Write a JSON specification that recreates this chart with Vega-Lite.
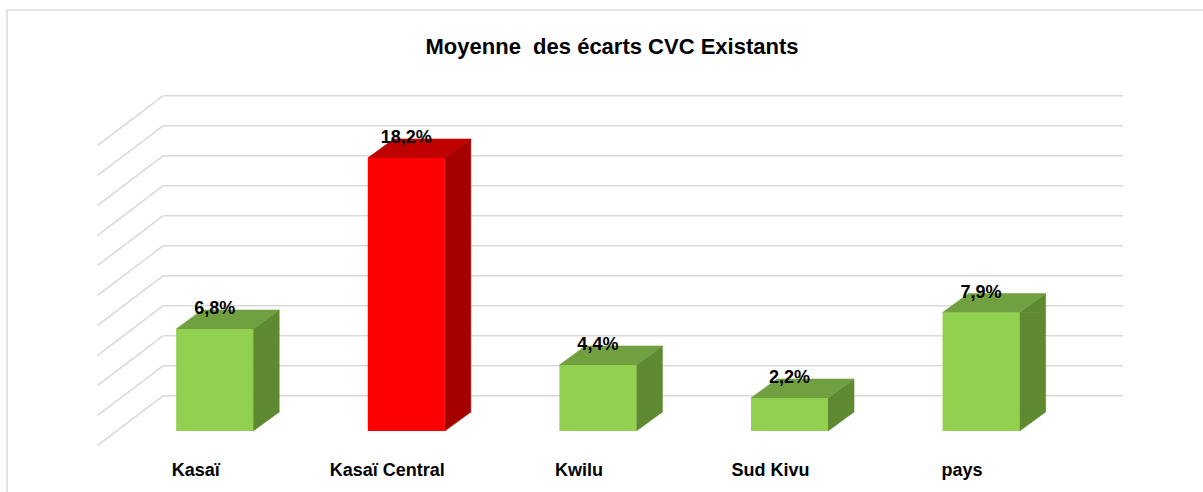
{
  "$schema": "https://vega.github.io/schema/vega-lite/v6.json",
  "width": 1210,
  "height": 490,
  "autosize": {"type": "none"},
  "padding": {"left": 7, "top": 10, "right": 0, "bottom": 0},
  "background": "white",
  "config": {
    "view": {"stroke": "#d9d9d9", "strokeWidth": 1.5},
    "locale": {"number": {"decimal": ",", "thousands": " ", "grouping": [3], "currency": ["", " €"]}},
    "font": "Liberation Sans",
    "axis": {"disable": true},
    "legend": {"disable": true}
  },
  "title": {
    "text": "Moyenne\u00a0 des écarts CVC Existants",
    "anchor": "middle",
    "frame": "group",
    "font": "Liberation Sans",
    "fontSize": 22,
    "fontWeight": "bold",
    "color": "#000000",
    "offset": 0,
    "baseline": "alphabetic",
    "dy": 66
  },
  "datasets": {
    "bars": [
      {"region": "Kasaï", "ecart": 0.068},
      {"region": "Kasaï Central", "ecart": 0.182},
      {"region": "Kwilu", "ecart": 0.044},
      {"region": "Sud Kivu", "ecart": 0.022},
      {"region": "pays", "ecart": 0.079}
    ],
    "grid": [
      {"tick": 0}, {"tick": 0.02}, {"tick": 0.04}, {"tick": 0.06}, {"tick": 0.08}, {"tick": 0.1},
      {"tick": 0.12}, {"tick": 0.14}, {"tick": 0.16}, {"tick": 0.18}, {"tick": 0.2}
    ]
  },
  "layer": [
    {
      "data": {"name": "grid"},
      "mark": {"type": "rule", "color": "#d9d9d9", "strokeWidth": 1.5, "yOffset": -35.3, "y2Offset": -35.3},
      "encoding": {
        "x": {"datum": "Kasaï", "type": "nominal", "bandPosition": -0.1675,
              "scale": {"domain": ["Kasaï", "Kasaï Central", "Kwilu", "Sud Kivu", "pays"], "paddingInner": 0.59812, "paddingOuter": 0.95668, "align": 0.4615},
              "axis": null},
        "x2": {"datum": "pays", "bandPosition": 2.343},
        "y": {"field": "tick", "type": "quantitative", "scale": {"domain": [-0.046, 0.280667], "nice": false, "zero": false}, "axis": null},
        "y2": {"field": "tick"}
      }
    },
    {
      "data": {"name": "grid"},
      "mark": {"type": "rule", "color": "#d9d9d9", "strokeWidth": 1.5, "yOffset": -35.3, "y2Offset": 14.7, "x2Offset": -66},
      "encoding": {
        "x": {"datum": "Kasaï", "type": "nominal", "bandPosition": -0.1675},
        "x2": {"datum": "Kasaï", "bandPosition": -0.1675},
        "y": {"field": "tick", "type": "quantitative"},
        "y2": {"field": "tick"}
      }
    },
    {
      "data": {"name": "bars"},
      "mark": {"type": "bar", "width": 26, "xOffset": 51.5, "y2Offset": -19, "strokeWidth": 0.6},
      "encoding": {
        "x": {"field": "region", "type": "nominal"},
        "y": {"field": "ecart", "type": "quantitative"},
        "y2": {"datum": 0},
        "color": {"condition": {"test": "datum.region === 'Kasaï Central'", "value": "#a50000"}, "value": "#5f8a32"},
        "stroke": {"condition": {"test": "datum.region === 'Kasaï Central'", "value": "#a50000"}, "value": "#5f8a32"}
      }
    },
    {
      "data": {"name": "bars"},
      "mark": {"type": "point", "shape": "M38.5,0L64.5,-19L64.5,0Z", "size": 4, "filled": true, "opacity": 1, "strokeWidth": 0.6},
      "encoding": {
        "x": {"field": "region", "type": "nominal"},
        "y": {"field": "ecart", "type": "quantitative"},
        "color": {"condition": {"test": "datum.region === 'Kasaï Central'", "value": "#a50000"}, "value": "#5f8a32"},
        "stroke": {"condition": {"test": "datum.region === 'Kasaï Central'", "value": "#a50000"}, "value": "#5f8a32"}
      }
    },
    {
      "data": {"name": "bars"},
      "mark": {"type": "point", "shape": "M38.5,-19L38.5,0L64.5,-19Z", "size": 4, "filled": true, "opacity": 1, "strokeWidth": 0.6},
      "encoding": {
        "x": {"field": "region", "type": "nominal"},
        "y": {"datum": 0},
        "color": {"condition": {"test": "datum.region === 'Kasaï Central'", "value": "#a50000"}, "value": "#5f8a32"},
        "stroke": {"condition": {"test": "datum.region === 'Kasaï Central'", "value": "#a50000"}, "value": "#5f8a32"}
      }
    },
    {
      "data": {"name": "bars"},
      "mark": {"type": "point", "shape": "M-38.5,0L38.5,0L64.5,-19L-12.5,-19Z", "size": 4, "filled": true, "opacity": 1, "strokeWidth": 0.6},
      "encoding": {
        "x": {"field": "region", "type": "nominal"},
        "y": {"field": "ecart", "type": "quantitative"},
        "color": {"condition": {"test": "datum.region === 'Kasaï Central'", "value": "#c00000"}, "value": "#70a040"},
        "stroke": {"condition": {"test": "datum.region === 'Kasaï Central'", "value": "#c00000"}, "value": "#70a040"}
      }
    },
    {
      "data": {"name": "bars"},
      "mark": {"type": "bar"},
      "encoding": {
        "x": {"field": "region", "type": "nominal"},
        "y": {"field": "ecart", "type": "quantitative"},
        "y2": {"datum": 0},
        "color": {"condition": {"test": "datum.region === 'Kasaï Central'", "value": "#ff0000"}, "value": "#92d050"}
      }
    },
    {
      "data": {"name": "bars"},
      "mark": {"type": "text", "yOffset": -15, "baseline": "alphabetic", "align": "center", "font": "Liberation Sans", "fontSize": 18, "fontWeight": "bold", "color": "#000000"},
      "encoding": {
        "x": {"field": "region", "type": "nominal"},
        "y": {"field": "ecart", "type": "quantitative"},
        "text": {"field": "ecart", "type": "quantitative", "format": ".1%"}
      }
    },
    {
      "data": {"name": "bars"},
      "mark": {"type": "text", "yOffset": 44.7, "xOffset": -19, "baseline": "alphabetic", "align": "center", "font": "Liberation Sans", "fontSize": 18, "fontWeight": "bold", "color": "#000000"},
      "encoding": {
        "x": {"field": "region", "type": "nominal"},
        "y": {"datum": 0},
        "text": {"field": "region", "type": "nominal"}
      }
    }
  ]
}
